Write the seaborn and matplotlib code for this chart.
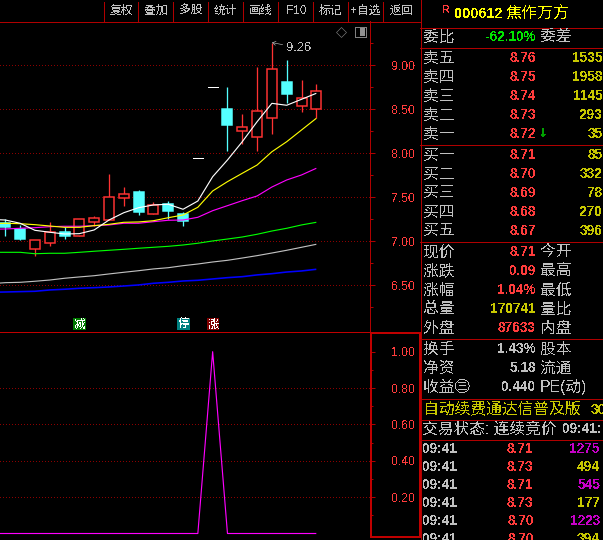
import matplotlib
matplotlib.use("Agg")
import matplotlib.pyplot as plt
from matplotlib.patches import Rectangle
from matplotlib.ticker import FixedLocator, FormatStrFormatter
import numpy as np
import pandas as pd
import seaborn as sns

# ---------- data ----------
opens  = [7.207, 7.142, 6.918, 6.980, 7.108, 7.059, 7.222, 7.248, 7.498, 7.562, 7.316, 7.426, 7.313,
          7.945, 8.752, 8.506, 8.259, 8.190, 8.400, 8.812, 8.543, 8.509]
closes = [7.161, 7.028, 7.014, 7.111, 7.066, 7.252, 7.264, 7.502, 7.536, 7.339, 7.410, 7.350, 7.236,
          7.945, 8.752, 8.324, 8.298, 8.480, 8.963, 8.676, 8.627, 8.707]
highs  = [7.256, 7.188, 7.014, 7.225, 7.161, 7.252, 7.293, 7.767, 7.620, 7.580, 7.450, 7.460, 7.330,
          7.945, 8.752, 8.756, 8.449, 8.983, 9.260, 9.060, 8.835, 8.790]
lows   = [7.060, 7.020, 6.839, 6.949, 7.028, 7.059, 7.180, 7.248, 7.407, 7.300, 7.316, 7.256, 7.176,
          7.945, 8.752, 8.028, 8.108, 8.028, 8.222, 8.574, 8.470, 8.404]
ma_index = list(range(-1, 22))
ma_white = [7.251, 7.244, 7.207, 7.127, 7.105, 7.085, 7.089, 7.131, 7.244, 7.327, 7.384, 7.415, 7.423,
            7.366, 7.460, 7.736, 7.926, 8.134, 8.361, 8.570, 8.548, 8.616, 8.684]
ma_yellow = [7.202, 7.207, 7.202, 7.191, 7.176, 7.161, 7.161, 7.180, 7.195, 7.218, 7.222, 7.236, 7.270,
             7.301, 7.389, 7.574, 7.680, 7.775, 7.869, 8.020, 8.134, 8.267, 8.400]
ma_magenta = [7.139, 7.142, 7.150, 7.157, 7.168, 7.173, 7.173, 7.180, 7.188, 7.207, 7.207, 7.225, 7.241,
              7.244, 7.275, 7.350, 7.407, 7.464, 7.517, 7.619, 7.699, 7.756, 7.832]
ma_green = [6.877, 6.877, 6.877, 6.861, 6.866, 6.866, 6.877, 6.889, 6.900, 6.911, 6.923, 6.934, 6.945,
            6.960, 6.980, 7.006, 7.028, 7.051, 7.082, 7.119, 7.150, 7.188, 7.218]
ma_gray = [6.520, 6.532, 6.536, 6.548, 6.562, 6.582, 6.597, 6.611, 6.631, 6.650, 6.668, 6.688, 6.702,
           6.725, 6.744, 6.767, 6.786, 6.812, 6.839, 6.869, 6.900, 6.934, 6.968]
ma_blue = [6.423, 6.426, 6.430, 6.434, 6.449, 6.457, 6.468, 6.475, 6.483, 6.494, 6.506, 6.525, 6.536,
           6.551, 6.559, 6.574, 6.589, 6.600, 6.620, 6.634, 6.653, 6.665, 6.684]
signal = [0, 0, 0, 0, 0, 0, 0, 0, 0, 0, 0, 0, 0, 0, 0, 1, 0, 0, 0, 0, 0, 0, 0]

toolbar_labels = ["复权", "叠加", "多股", "统计", "画线", "F10", "标记", "+自选", "返回"]
event_labels = ["减", "停", "涨"]
event_index = [5, 12, 14]
high_label = "9.26"

stock_code = "000612"
stock_name = "焦作万方"
ask_labels = ["卖五", "卖四", "卖三", "卖二", "卖一"]
ask_prices = ["8.76", "8.75", "8.74", "8.73", "8.72"]
ask_vols = ["1535", "1958", "1145", "293", "35"]
bid_labels = ["买一", "买二", "买三", "买四", "买五"]
bid_prices = ["8.71", "8.70", "8.69", "8.68", "8.67"]
bid_vols = ["85", "332", "78", "270", "396"]
quote_left = ["现价", "涨跌", "涨幅", "总量", "外盘"]
quote_vals = ["8.71", "0.09", "1.04%", "170741", "87633"]
quote_right = ["今开", "最高", "最低", "量比", "内盘"]
fund_left = ["换手", "净资", "收益㊂"]
fund_vals = ["1.43%", "5.18", "0.440"]
fund_right = ["股本", "流通", "PE(动)"]
tick_times = ["09:41"] * 6
tick_prices = ["8.71", "8.73", "8.71", "8.73", "8.70", "8.70"]
tick_vols = ["1275", "494", "545", "177", "1223", "394"]

# ---------- style ----------
W, H = 603, 540
BG = "#000000"
RED = "#ff3c3c"
LINE = "#b00000"
GRID = "#8c0000"
GRAY = "#c0c0c0"
YEL = "#c8c800"
sns.set_theme(style="dark", rc={"figure.facecolor": BG, "axes.facecolor": BG, "savefig.facecolor": BG})
plt.rcParams["font.family"] = ["Liberation Sans", "Noto Sans CJK SC", "DejaVu Sans"]
plt.rcParams["text.antialiased"] = False
PX = 0.72
THIN = 0.62 * PX
CURVE = 1.15 * PX

fig = plt.figure(figsize=(W / 100, H / 100), dpi=100)

def box(x0, y0, x1, y1, **kw):
    return fig.add_axes([x0 / W, 1 - y1 / H, (x1 - x0) / W, (y1 - y0) / H], **kw)

main = box(0, 21.5, 369.5, 331.5)
sub = box(0, 333.5, 369.5, 537.5)
ov = fig.add_axes([0, 0, 1, 1], zorder=5)
ov.set_xlim(0, W)
ov.set_ylim(H, 0)
ov.axis("off")
ov.patch.set_alpha(0)

XLIM = (-0.358, 24.59)

for ax in (main, sub):
    ax.set_xlim(*XLIM)
    ax.set_xticks([])
    for s in ax.spines.values():
        s.set_visible(False)
    ax.spines["right"].set_visible(True)
    ax.spines["right"].set_color(LINE)
    ax.spines["right"].set_linewidth(PX)
    ax.yaxis.tick_right()
    ax.tick_params(axis="y", which="major", length=5 * PX, width=PX, color=LINE,
                   labelcolor=RED, labelsize=12.2 * PX, pad=16.5 * PX, right=True, left=False)
    ax.tick_params(axis="y", which="minor", length=3 * PX, width=PX, color=LINE, right=True, left=False)
    ax.yaxis.set_major_formatter(FormatStrFormatter("%.2f"))
    ax.grid(False)

# ---------- price panel ----------
main.set_ylim(5.977, 9.5)
main.yaxis.set_major_locator(FixedLocator([6.5, 7.0, 7.5, 8.0, 8.5, 9.0]))
main.yaxis.set_minor_locator(FixedLocator([6.25, 6.75, 7.25, 7.75, 8.25, 8.75, 9.25]))
for v in [6.5, 7.0, 7.5, 8.0, 8.5, 9.0]:
    main.axhline(v, color=GRID, lw=THIN, ls=(0, (1.6, 4.8)), antialiased=False, zorder=1)

idx = np.arange(len(opens))
up_color, down_color, flat_color = "#ff3232", "#54ffff", "#ffffff"
bw = 10 / 14.81
for i, o, c, h, l in zip(idx, opens, closes, highs, lows):
    if h == l:
        main.plot([i - bw / 2, i + bw / 2], [o, o], color=flat_color, lw=PX, antialiased=False,
                  solid_capstyle="butt", snap=True, zorder=3)
        continue
    col = up_color if c >= o else down_color
    main.plot([i, i], [l, h], color=col, lw=PX * 1.3, solid_capstyle="butt", snap=True, zorder=2)
    main.bar(i, abs(c - o), bottom=min(o, c), width=bw, linewidth=PX * 1.5, edgecolor=col,
             facecolor=BG if c >= o else down_color, snap=True, zorder=3)

ma = pd.DataFrame({"i": ma_index, "white": ma_white, "yellow": ma_yellow, "magenta": ma_magenta,
                   "green": ma_green, "gray": ma_gray, "blue": ma_blue})
def thin(ax, n_before, lw):
    for ln in ax.lines[n_before:]:
        ln.set_linewidth(lw)
        ln.set_solid_capstyle("butt")

for name, col, lw in [("blue", "#0000ff", 1.6 * PX), ("gray", "#c0c0c0", CURVE), ("green", "#00ff00", CURVE),
                      ("magenta", "#ff00ff", CURVE), ("yellow", "#ffff00", CURVE), ("white", "#ffffff", CURVE)]:
    n = len(main.lines)
    sns.lineplot(data=ma, x="i", y=name, color=col, errorbar=None, legend=False, ax=main, zorder=4)
    thin(main, n, lw)
main.set_xlim(*XLIM)
main.set_xlabel("")
main.set_ylabel("")

main.annotate(high_label, xy=(18, highs[18]), xytext=(14, -5), textcoords="offset pixels",
              color=GRAY, fontsize=13 * PX, va="center", ha="left",
              arrowprops=dict(arrowstyle="->,head_length=0.25,head_width=0.15", color=GRAY, lw=THIN,
                              shrinkA=0, shrinkB=0), zorder=6)

event_colors = ["#007800", "#007f7f", "#7f0000"]
for lab, i, col in zip(event_labels, event_index, event_colors):
    main.text(i + 0.02, 5.977 + 7.5 / 88, lab, color="#ffffff", fontsize=11.5 * PX, ha="center", va="center",
              bbox=dict(boxstyle="square,pad=0.06", fc=col, ec=col, lw=0), zorder=6)

# ---------- indicator panel ----------
sub.set_ylim(-0.022, 1.1)
sub.yaxis.set_major_locator(FixedLocator([0.2, 0.4, 0.6, 0.8, 1.0]))
sub.yaxis.set_minor_locator(FixedLocator([0.1, 0.3, 0.5, 0.7, 0.9]))
for v in [0.2, 0.4, 0.6, 0.8]:
    sub.axhline(v, color=GRID, lw=THIN, ls=(0, (1.6, 4.8)), antialiased=False, zorder=1)
sig = pd.DataFrame({"i": ma_index, "signal": signal})
n = len(sub.lines)
sns.lineplot(data=sig, x="i", y="signal", color="#ff00ff", errorbar=None, legend=False, ax=sub, zorder=3)
thin(sub, n, CURVE)
sub.set_xlim(*XLIM)
sub.set_xlabel("")
sub.set_ylabel("")
sub.spines["right"].set_visible(False)

# ---------- chrome ----------
def hline(y, x0=420, x1=W, color=LINE, lw=1.0):
    ov.plot([x0, x1], [y, y], color=color, lw=lw * PX, antialiased=False, solid_capstyle="butt", snap=True)

def vline(x, y0, y1, color=LINE, lw=1.0):
    ov.plot([x, x], [y0, y1], color=color, lw=lw * PX, antialiased=False, solid_capstyle="butt", snap=True)

hline(21.5, 0, 420)
hline(331.5, 0, 420, color="#c00000")
vline(420.5, 0, H, lw=1.0)
ov.add_patch(Rectangle((370.5, 333), 49.5, 204, fill=False, ec="#c00000", lw=2 * PX, antialiased=False))

seps = [104.3, 138.3, 173.3, 208.3, 243.3, 278.3, 313.3, 348.3, 383.3, 420]
for x0 in seps[:-1]:
    vline(x0, 2, 21)
for a, b, lab in zip(seps[:-1], seps[1:], toolbar_labels):
    ov.text((a + b) / 2, 11, lab, color=GRAY, fontsize=11.8 * PX, ha="center", va="center")

ov.plot([341], [32], marker="D", ms=6.5 * PX, mfc="none", mec="#808080", mew=THIN)
ov.add_patch(Rectangle((354.5, 27), 11, 9.5, fill=False, ec="#808080", lw=PX, antialiased=False))
ov.add_patch(Rectangle((360, 28), 4.5, 7.5, fc="#909090", ec="none", antialiased=False))

CJK = 15.7 * PX
NUM = 13.6 * PX

def cjk(x, y, s, color=GRAY, size=CJK, ha="left"):
    ov.text(x, y, s, color=color, fontsize=size, ha=ha, va="center")

def num(x, y, s, color=RED, size=NUM, ha="right"):
    ov.text(x, y, s, color=color, fontsize=size, ha=ha, va="center", fontweight="bold")

for y in [27.5, 47.5, 144.5, 241.5, 338.5, 399, 420, 439.5]:
    hline(y)

num(442.5, 10, "R", size=11 * PX, ha="left")
num(454.5, 14.5, stock_code, color="#ffff00", size=14.5 * PX, ha="left")
cjk(505.5, 14.5, stock_name, color="#ffff00", size=16 * PX)

cjk(423, 37, "委比")
num(536.5, 37, "-62.10%", color="#00e600")
cjk(540, 37, "委差")

ask_y = [58.3, 77.3, 96.3, 115.3, 134.3]
for y, a, p, v in zip(ask_y, ask_labels, ask_prices, ask_vols):
    cjk(423, y, a)
    num(536, y, p)
    num(602.5, y, v, color=YEL)
ov.text(543, 133.5, "↓", color="#00a000", fontsize=12 * PX, ha="center", va="center", fontweight="bold",
        family=["DejaVu Sans"])

bid_y = [155.3, 174, 193, 212, 231]
for y, a, p, v in zip(bid_y, bid_labels, bid_prices, bid_vols):
    cjk(423, y, a)
    num(536, y, p)
    num(602.5, y, v, color=YEL)

quote_y = [252, 271, 290, 309, 328]
quote_cols = [RED, RED, RED, YEL, RED]
for y, a, v, b, c in zip(quote_y, quote_left, quote_vals, quote_right, quote_cols):
    cjk(423, y, a)
    num(536, y, v, color=c)
    cjk(540, y, b)

fund_y = [349, 368.3, 387.3]
for y, a, v, b in zip(fund_y, fund_left, fund_vals, fund_right):
    cjk(423, y, a)
    num(536, y, v, color=GRAY)
    cjk(540, y, b)

cjk(423, 409.7, "自动续费通达信普及版", color=YEL, size=15.8 * PX)
num(590.5, 409.7, "30", color=YEL, ha="left")
cjk(422, 429, "交易状态: 连续竞价")
num(562.5, 429, "09:41:", color=GRAY, ha="left")

tick_y = [449, 467, 485, 503, 521, 539]
tick_cols = ["#c800c8", YEL, "#c800c8", YEL, "#c800c8", YEL]
for y, t, p, v, c in zip(tick_y, tick_times, tick_prices, tick_vols, tick_cols):
    num(422.5, y, t, color=GRAY, ha="left")
    num(533.5, y, p)
    num(600, y, v, color=c)

fig.savefig("out.png", dpi=100)
